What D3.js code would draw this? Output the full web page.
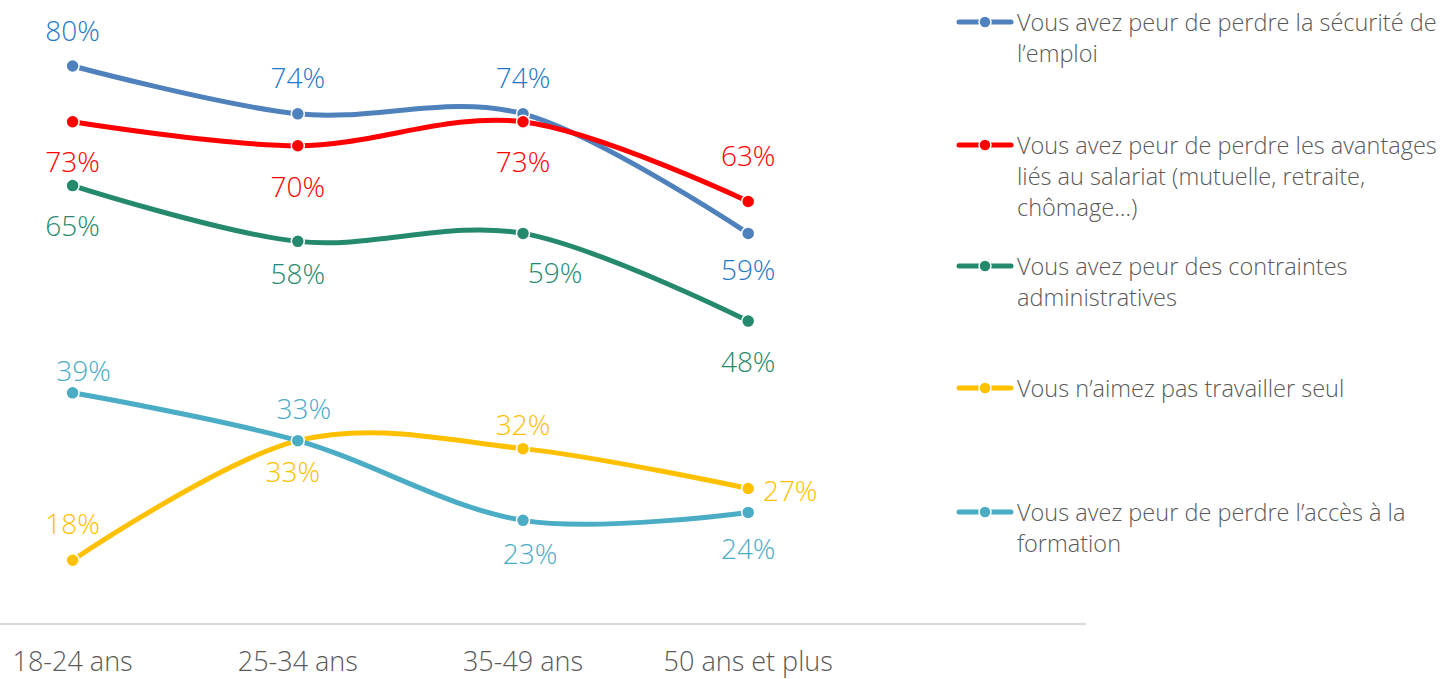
<!DOCTYPE html>
<html lang="fr">
<head><meta charset="utf-8"/>
<style>
body { margin:0; background:#fff; }
svg text { font-family: "Open Sans", sans-serif; font-weight:300; }
.line { fill:none; stroke-width:5px; stroke-linecap:round; }
</style>
</head>
<body>
<svg id="chart" width="1443" height="679"></svg>
<script src="https://cdn.jsdelivr.net/npm/d3@7"></script>
<script>

var categories = ["18-24 ans", "25-34 ans", "35-49 ans", "50 ans et plus"];

var seriesNames = [
	"Vous avez peur de perdre la sécurité de l’emploi",
	"Vous avez peur de perdre les avantages liés au salariat (mutuelle, retraite, chômage…)",
	"Vous avez peur des contraintes administratives",
	"Vous n’aimez pas travailler seul",
	"Vous avez peur de perdre l’accès à la formation"
];

var securite    = [80, 74, 74, 59];
var avantages   = [73, 70, 73, 63];
var contraintes = [65, 58, 59, 48];
var seul        = [18, 33, 32, 27];
var formation   = [39, 33, 23, 24];

// legend text broken the way the reference wraps it
var legendLines = [
	["Vous avez peur de perdre la sécurité de", "l’emploi"],
	["Vous avez peur de perdre les avantages", "liés au salariat (mutuelle, retraite,", "chômage…)"],
	["Vous avez peur des contraintes", "administratives"],
	["Vous n’aimez pas travailler seul"],
	["Vous avez peur de perdre l’accès à la", "formation"]
];

var lineColors  = ["#4f81bd", "#ff0000", "#258a6d", "#ffc000", "#4bacc6"];
var labelColors = ["#1f78c8", "#ff0000", "#258a6d", "#ffc000", "#4bacc6"];

// label offsets from each point (px)
var labelDx = [
	[0, 0, 0, 0],
	[0, 0, 0, 0],
	[0, 0, 32, 0],
	[0, -5, 0, 42],
	[11, 6, 7, 0]
];
var labelDy = [
	[-36, -37, -37, 36],
	[39, 40, 39, -47],
	[39, 32, 39, 40],
	[-37, 30, -25, 2],
	[-23, -33, 33, 36]
];

var values = [securite, avantages, contraintes, seul, formation];

var svg = d3.select("#chart");

// 5 slots, the last one empty (axis runs past the last category)
var x = d3.scaleBand().domain(categories.concat([""])).range([-40, 1086]).paddingInner(0);
var cx = c => x(c) + x.bandwidth() / 2;
var y = d3.scaleLinear().domain([10, 80]).range([624, 66]);

// axis
var axis = svg.append("g").attr("transform", "translate(0,624)")
	.call(d3.axisBottom(x).tickSize(0).tickFormat(d => d));
axis.select(".domain").attr("stroke", "#d9d9d9").attr("stroke-width", 2)
	.attr("d", "M0,0H1086");
axis.selectAll(".tick text")
	.attr("font-size", 27).attr("fill", "#595959")
	.attr("font-family", "'Open Sans', sans-serif")
	.attr("font-weight", 300)
	.attr("dy", 0).attr("y", 47)
	.attr("dominant-baseline", "alphabetic");

var line = d3.line()
	.curve(d3.curveCardinal.tension(0))
	.x((d, i) => cx(categories[i]))
	.y(d => y(d));

values.forEach(function(vals, s){
	var g = svg.append("g");
	g.append("path").attr("class", "line")
		.attr("stroke", lineColors[s])
		.attr("d", line(vals));
	g.selectAll("circle").data(vals).enter().append("circle")
		.attr("cx", (d, i) => cx(categories[i]))
		.attr("cy", d => y(d))
		.attr("r", 6.5)
		.attr("fill", lineColors[s])
		.attr("stroke", "#fff").attr("stroke-width", 1.5);
	g.selectAll("text").data(vals).enter().append("text")
		.attr("x", (d, i) => cx(categories[i]) + labelDx[s][i])
		.attr("y", (d, i) => y(d) + labelDy[s][i])
		.attr("text-anchor", "middle")
		.attr("dominant-baseline", "central")
		.attr("font-size", 28)
		.attr("fill", labelColors[s])
		.text(d => d + "%");
});

// legend
var legendY = [22, 145, 266, 388, 512];
var leg = svg.append("g");
seriesNames.forEach(function(name, s){
	var g = leg.append("g").attr("transform", "translate(0," + legendY[s] + ")");
	g.append("line").attr("x1", 959).attr("x2", 1011).attr("y1", 0).attr("y2", 0)
		.attr("stroke", lineColors[s]).attr("stroke-width", 5).attr("stroke-linecap", "round");
	g.append("circle").attr("cx", 985).attr("cy", 0).attr("r", 6)
		.attr("fill", lineColors[s]).attr("stroke", "#fff").attr("stroke-width", 1.5);
	var t = g.append("text").attr("x", 1017).attr("y", 0)
		.attr("font-size", 23.5).attr("fill", "#595959")
		.attr("dominant-baseline", "central");
	legendLines[s].forEach(function(l, k){
		t.append("tspan").attr("x", 1017).attr("dy", k == 0 ? 0 : 31).text(l);
	});
});
</script>
</body>
</html>
